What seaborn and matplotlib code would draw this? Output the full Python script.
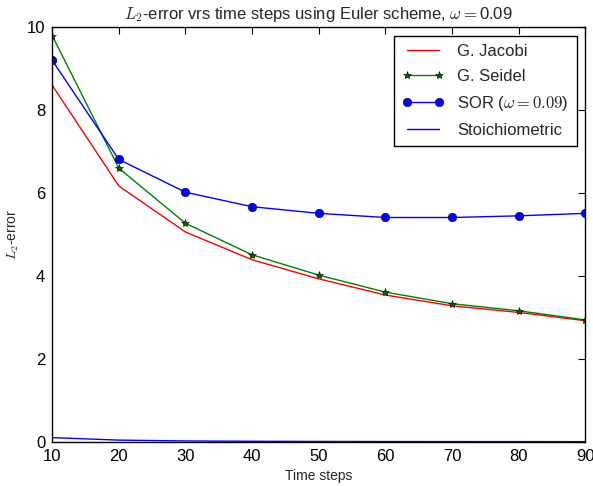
import matplotlib
matplotlib.use("Agg")
import matplotlib.pyplot as plt
import seaborn as sns
import numpy as np

steps = [10, 20, 30, 40, 50, 60, 70, 80, 90]
jacobi = [8.60, 6.17, 5.06, 4.39, 3.93, 3.54, 3.28, 3.12, 2.92]
seidel = [9.80, 6.60, 5.27, 4.51, 4.02, 3.61, 3.33, 3.16, 2.94]
sor = [9.20, 6.81, 6.02, 5.67, 5.51, 5.41, 5.41, 5.45, 5.51]
stoich = [0.10, 0.04, 0.02, 0.012, 0.008, 0.006, 0.005, 0.004, 0.003]

sns.set_style("white")
plt.rcParams['font.family'] = ['Liberation Sans', 'DejaVu Sans']
plt.rcParams['mathtext.fontset'] = 'cm'

fig = plt.figure(figsize=(5.93, 4.86), dpi=100)
ax = fig.add_axes([0.088, 0.091, 0.899, 0.853])

sns.lineplot(x=steps, y=jacobi, ax=ax, color='red', lw=1, label='G. Jacobi')
sns.lineplot(x=steps, y=seidel, ax=ax, color='green', lw=1, marker='*', markersize=6,
             markerfacecolor='#006400', markeredgecolor='black', markeredgewidth=0.4,
             label='G. Seidel')
sns.lineplot(x=steps, y=sor, ax=ax, color='blue', lw=1, marker='o', markersize=6,
             markeredgecolor='#000080', markeredgewidth=0.5,
             label=r'SOR ($\omega=0.09$)')
sns.lineplot(x=steps, y=stoich, ax=ax, color='blue', lw=1, label='Stoichiometric')

ax.set_xlim(10, 90)
ax.set_ylim(0, 10)
ax.set_xticks(steps)
ax.set_yticks([0, 2, 4, 6, 8, 10])
ax.tick_params(direction='in', top=True, right=True, length=5, width=0.8,
               labelsize=12, colors='black', pad=5)
for s in ax.spines.values():
    s.set_color('black')
    s.set_linewidth(1)
ax.set_xlabel('Time steps', fontsize=10)
ax.set_ylabel(r'$L_2$-error', fontsize=10)
ax.set_title(r'$L_2$-error vrs time steps using Euler scheme, $\omega=$0.09', fontsize=12)
leg = ax.legend(loc='upper right', fontsize=12, frameon=True, fancybox=False,
                edgecolor='black', framealpha=1, handlelength=2.5, borderpad=0.5,
                labelspacing=0.6, numpoints=2)
leg.get_frame().set_linewidth(1)

fig.savefig('out.png', dpi=100)
